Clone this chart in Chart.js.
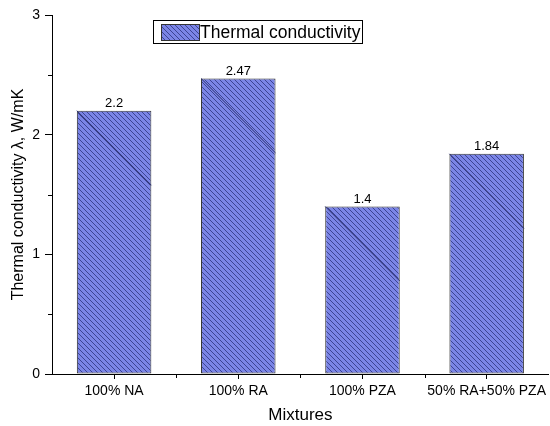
<!DOCTYPE html>
<html>
<head>
<meta charset="utf-8">
<script src="https://cdn.jsdelivr.net/npm/chart.js@4/dist/chart.umd.min.js"></script>
<style>
html,body{margin:0;padding:0;background:#fff;}
#wrap{width:550px;height:426px;}
</style>
</head>
<body>
<div id="wrap"><canvas id="c" width="550" height="426"></canvas></div>
<script>
const categories = ["100% NA", "100% RA", "100% PZA", "50% RA+50% PZA"];
const conductivity = [2.2, 2.47, 1.4, 1.84];
const seriesLabel = "Thermal conductivity";
const yTicks = [0, 1, 2, 3];
const yMinorTicks = [0.5, 1.5, 2.5];

const FONT = "'Liberation Sans', Arial, sans-serif";
const FILL = '#7b85e6';
const HATCH = '#3c4393';

function makePattern() {
  const p = document.createElement('canvas');
  p.width = 5; p.height = 5;
  const g = p.getContext('2d');
  g.fillStyle = FILL; g.fillRect(0, 0, 5, 5);
  g.fillStyle = HATCH;
  for (let i = 0; i < 5; i++) g.fillRect(i, i, 1, 1);
  return g.createPattern(p, 'repeat');
}
const ctx = document.getElementById('c').getContext('2d');
const pattern = makePattern();

const extras = {
  id: 'extras',
  afterDatasetsDraw(chart) {
    const c = chart.ctx;
    const meta = chart.getDatasetMeta(0);
    c.save();
    meta.data.forEach((bar, i) => {
      const left = bar.x - bar.width / 2, right = bar.x + bar.width / 2;
      const len = Math.min(right - left, bar.base - bar.y);
      c.strokeStyle = '#2a2f6e';
      c.lineWidth = 1;
      c.beginPath();
      c.moveTo(left, bar.y);
      c.lineTo(left + len, bar.y + len);
      c.stroke();
      c.fillStyle = '#000';
      c.font = '13px ' + FONT;
      c.textAlign = 'center';
      c.textBaseline = 'bottom';
      c.fillText(String(conductivity[i]), bar.x, bar.y - 1);
    });
    const ys = chart.scales.y, xs = chart.scales.x;
    c.strokeStyle = '#000';
    c.lineWidth = 1;
    c.beginPath();
    yMinorTicks.forEach(v => {
      const py = Math.round(ys.getPixelForValue(v)) + 0.5;
      c.moveTo(ys.right - 4, py); c.lineTo(ys.right, py);
    });
    for (let i = 0; i < categories.length - 1; i++) {
      const px = Math.round((xs.getPixelForValue(i) + xs.getPixelForValue(i + 1)) / 2) + 0.5;
      c.moveTo(px, xs.top); c.lineTo(px, xs.top + 4);
    }
    c.stroke();
    // legend
    const lx = 153, ly = 20, lw = 209, lh = 23;
    c.fillStyle = '#fff';
    c.fillRect(lx, ly, lw, lh);
    c.strokeStyle = '#000';
    c.strokeRect(lx + 0.5, ly + 0.5, lw, lh);
    c.fillStyle = pattern;
    c.fillRect(161, 24, 39, 17);
    c.strokeStyle = '#333';
    c.strokeRect(161.5, 24.5, 38, 16);
    c.fillStyle = '#000';
    c.font = '17.5px ' + FONT;
    c.textAlign = 'left';
    c.textBaseline = 'middle';
    c.fillText(seriesLabel, 200, 33);
    c.restore();
  }
};

new Chart(ctx, {
  type: 'bar',
  data: {
    labels: categories,
    datasets: [{
      label: seriesLabel,
      data: conductivity,
      backgroundColor: pattern,
      borderColor: '#333',
      borderWidth: 1,
      borderSkipped: false,
      categoryPercentage: 1,
      barPercentage: 0.6
    }]
  },
  options: {
    responsive: false,
    animation: false,
    devicePixelRatio: 1,
    layout: { padding: { top: 15, right: 0, left: 0, bottom: 0 } },
    plugins: { legend: { display: false }, tooltip: { enabled: false } },
    scales: {
      x: {
        type: 'category',
        offset: true,
        grid: { display: true, drawOnChartArea: false, tickLength: 5, color: '#000', offset: false },
        border: { display: true, color: '#000', width: 1 },
        ticks: { color: '#000', font: { family: FONT, size: 14 }, maxRotation: 0, autoSkip: false, padding: 4 },
        title: { display: true, text: 'Mixtures', color: '#000', font: { family: FONT, size: 17 }, padding: { top: 0, bottom: 0 } },
        afterFit(s) { s.height = 52; }
      },
      y: {
        min: 0, max: 3,
        afterBuildTicks(s) { s.ticks = yTicks.map(v => ({ value: v })); },
        grid: { display: true, drawOnChartArea: false, tickLength: 7, color: '#000' },
        border: { display: true, color: '#000', width: 1 },
        ticks: { color: '#000', font: { family: FONT, size: 14 }, padding: 5 },
        title: { display: true, text: 'Thermal conductivity λ, W/mK', color: '#000', font: { family: FONT, size: 16 }, padding: { top: 9, bottom: 9 } },
        afterFit(s) { s.width = 52; }
      }
    }
  },
  plugins: [extras]
});
</script>
</body>
</html>
